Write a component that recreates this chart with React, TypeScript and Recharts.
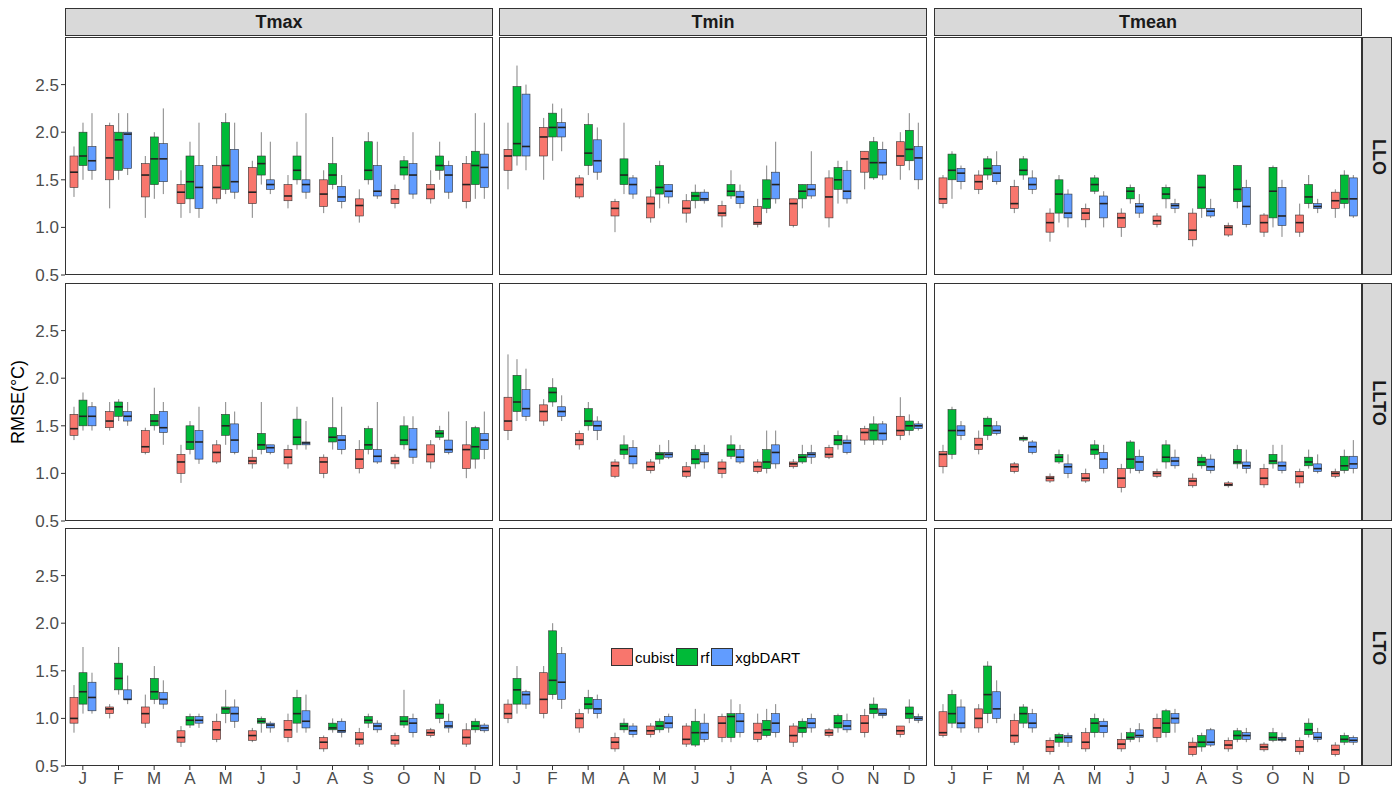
import React from 'react'
import { ComposedChart, Bar, XAxis, YAxis } from 'recharts'

type Box = [number, number, number, number, number]

const months = ['J', 'F', 'M', 'A', 'M', 'J', 'J', 'A', 'S', 'O', 'N', 'D']
const variables = ['Tmax', 'Tmin', 'Tmean']
const schemes = ['LLO', 'LLTO', 'LTO']
const models = ['cubist', 'rf', 'xgbDART']
const colors = ['#F8766D', '#00BA38', '#619CFF']
const yTicks = [0.5, 1.0, 1.5, 2.0, 2.5]

// [min, q1, median, q3, max] per month, one array per panel and model
const tmaxLLO: Box[][] = [
  [[1.32,1.42,1.58,1.75,1.85],[1.2,1.5,1.73,2.07,2.1],[1.1,1.32,1.55,1.67,1.75],[1.1,1.25,1.37,1.45,1.6],[1.25,1.3,1.42,1.65,1.75],[1.1,1.25,1.37,1.63,1.7],[1.2,1.28,1.33,1.45,1.55],[1.15,1.22,1.35,1.5,1.6],[1.05,1.12,1.23,1.3,1.4],[1.2,1.25,1.3,1.4,1.45],[1.25,1.3,1.4,1.45,1.6],[1.2,1.27,1.45,1.67,1.75]],
  [[1.5,1.65,1.75,2.0,2.1],[1.5,1.6,1.92,2.0,2.2],[1.3,1.45,1.72,1.95,2.0],[1.15,1.3,1.48,1.75,1.9],[1.35,1.4,1.65,2.1,2.2],[1.45,1.55,1.67,1.75,2.0],[1.45,1.5,1.6,1.75,1.9],[1.4,1.45,1.55,1.67,1.95],[1.45,1.5,1.6,1.9,2.0],[1.5,1.55,1.63,1.7,1.75],[1.5,1.6,1.65,1.75,1.9],[1.3,1.45,1.65,1.8,2.2]],
  [[1.5,1.6,1.7,1.85,2.2],[1.55,1.62,1.98,2.0,2.2],[1.35,1.48,1.72,1.88,2.25],[1.1,1.2,1.42,1.65,2.1],[1.3,1.37,1.48,1.82,2.1],[1.35,1.4,1.45,1.5,1.9],[1.3,1.37,1.45,1.5,2.2],[1.2,1.27,1.32,1.43,1.55],[1.3,1.33,1.38,1.65,1.9],[1.3,1.35,1.55,1.67,2.0],[1.3,1.37,1.55,1.65,1.7],[1.3,1.42,1.63,1.77,2.1]],
]
const tminLLO: Box[][] = [
  [[1.4,1.6,1.75,1.82,2.1],[1.5,1.75,1.95,2.05,2.15],[1.3,1.32,1.45,1.52,1.55],[0.95,1.12,1.2,1.27,1.3],[1.05,1.1,1.25,1.32,1.4],[1.05,1.15,1.2,1.28,1.35],[1.0,1.12,1.15,1.23,1.28],[1.0,1.03,1.05,1.22,1.3],[1.0,1.02,1.25,1.3,1.3],[1.0,1.1,1.32,1.52,1.6],[1.4,1.58,1.72,1.8,1.8],[1.5,1.65,1.75,1.9,2.0]],
  [[1.65,1.75,1.88,2.48,2.7],[1.7,1.95,2.05,2.2,2.3],[1.55,1.65,1.78,2.08,2.2],[1.35,1.45,1.55,1.72,2.1],[1.2,1.35,1.42,1.65,1.7],[1.2,1.28,1.33,1.37,1.45],[1.3,1.33,1.38,1.45,1.6],[1.15,1.2,1.3,1.5,1.65],[1.2,1.3,1.38,1.45,1.45],[1.25,1.4,1.5,1.63,1.7],[1.5,1.52,1.68,1.9,1.95],[1.6,1.7,1.82,2.02,2.2]],
  [[1.6,1.75,1.85,2.4,2.5],[1.8,1.95,2.05,2.1,2.25],[1.5,1.58,1.7,1.92,2.05],[1.3,1.35,1.45,1.52,1.55],[1.25,1.32,1.38,1.45,1.45],[1.25,1.28,1.3,1.37,1.4],[1.2,1.25,1.32,1.38,1.45],[1.25,1.3,1.45,1.58,1.9],[1.3,1.33,1.4,1.45,1.8],[1.25,1.3,1.38,1.6,1.7],[1.5,1.55,1.68,1.82,1.9],[1.4,1.5,1.73,1.85,2.1]],
]
const tmeanLLO: Box[][] = [
  [[1.2,1.25,1.3,1.52,1.55],[1.35,1.4,1.48,1.55,1.6],[1.15,1.2,1.25,1.43,1.5],[0.85,0.95,1.05,1.15,1.2],[1.0,1.08,1.15,1.2,1.25],[0.9,1.0,1.1,1.15,1.2],[1.0,1.03,1.07,1.12,1.15],[0.8,0.87,0.97,1.15,1.2],[0.9,0.92,1.0,1.02,1.05],[0.9,0.95,1.05,1.13,1.15],[0.9,0.95,1.05,1.13,1.25],[1.1,1.2,1.28,1.37,1.4]],
  [[1.3,1.5,1.6,1.77,1.8],[1.5,1.55,1.62,1.72,1.75],[1.5,1.55,1.6,1.72,1.75],[1.05,1.15,1.35,1.5,1.55],[1.35,1.38,1.45,1.52,1.55],[1.25,1.3,1.38,1.42,1.45],[1.2,1.3,1.35,1.42,1.45],[1.1,1.2,1.42,1.55,1.55],[1.2,1.27,1.4,1.65,1.65],[1.0,1.1,1.38,1.63,1.65],[1.2,1.25,1.32,1.45,1.55],[1.2,1.25,1.3,1.55,1.6]],
  [[1.4,1.48,1.57,1.62,1.65],[1.45,1.48,1.57,1.65,1.8],[1.35,1.4,1.45,1.52,1.6],[1.0,1.1,1.15,1.35,1.4],[1.0,1.1,1.25,1.33,1.38],[1.1,1.15,1.22,1.25,1.35],[1.15,1.2,1.23,1.25,1.3],[1.1,1.12,1.17,1.2,1.3],[1.0,1.03,1.22,1.42,1.5],[0.9,1.02,1.12,1.42,1.5],[1.15,1.2,1.22,1.25,1.3],[1.1,1.12,1.3,1.52,1.55]],
]
const tmaxLLTO: Box[][] = [
  [[1.35,1.4,1.47,1.62,1.7],[1.45,1.48,1.55,1.65,1.75],[1.2,1.22,1.28,1.45,1.48],[0.9,1.0,1.12,1.2,1.3],[1.1,1.12,1.22,1.3,1.35],[1.05,1.1,1.13,1.17,1.25],[1.05,1.1,1.17,1.25,1.3],[0.95,1.0,1.12,1.17,1.2],[1.0,1.05,1.15,1.25,1.35],[1.05,1.1,1.13,1.17,1.2],[1.05,1.12,1.2,1.3,1.35],[0.95,1.05,1.25,1.3,1.55]],
  [[1.45,1.5,1.6,1.77,1.85],[1.55,1.6,1.7,1.75,1.78],[1.45,1.5,1.55,1.62,1.9],[1.2,1.25,1.33,1.5,1.55],[1.3,1.4,1.5,1.62,1.75],[1.2,1.25,1.3,1.42,1.75],[1.25,1.3,1.38,1.57,1.7],[1.25,1.33,1.38,1.48,1.8],[1.2,1.25,1.3,1.47,1.5],[1.25,1.3,1.35,1.5,1.6],[1.35,1.38,1.42,1.45,1.5],[1.05,1.15,1.28,1.48,1.5]],
  [[1.45,1.5,1.6,1.7,1.75],[1.5,1.55,1.6,1.65,1.75],[1.3,1.43,1.48,1.65,1.75],[1.1,1.15,1.33,1.45,1.7],[1.2,1.22,1.35,1.52,1.65],[1.2,1.22,1.27,1.3,1.3],[1.25,1.3,1.32,1.33,1.55],[1.2,1.25,1.35,1.4,1.7],[1.1,1.12,1.18,1.25,1.75],[1.1,1.17,1.25,1.47,1.6],[1.2,1.22,1.25,1.35,1.65],[1.15,1.25,1.35,1.42,1.65]],
]
const tminLLTO: Box[][] = [
  [[1.35,1.45,1.55,1.8,2.25],[1.5,1.55,1.65,1.72,1.78],[1.25,1.3,1.35,1.42,1.45],[0.95,0.97,1.08,1.12,1.15],[1.0,1.03,1.07,1.12,1.15],[0.95,0.97,1.02,1.07,1.12],[0.95,1.0,1.05,1.12,1.15],[1.0,1.02,1.07,1.12,1.15],[1.05,1.07,1.1,1.12,1.15],[1.15,1.17,1.2,1.27,1.3],[1.3,1.35,1.43,1.47,1.5],[1.35,1.4,1.45,1.6,1.8]],
  [[1.55,1.65,1.75,2.03,2.2],[1.7,1.75,1.85,1.9,2.0],[1.45,1.5,1.55,1.68,1.75],[1.15,1.2,1.25,1.3,1.4],[1.1,1.15,1.2,1.22,1.3],[1.05,1.1,1.15,1.25,1.3],[1.15,1.18,1.25,1.3,1.4],[1.0,1.05,1.12,1.25,1.45],[1.1,1.12,1.17,1.2,1.3],[1.25,1.3,1.35,1.4,1.45],[1.3,1.35,1.45,1.52,1.6],[1.4,1.45,1.5,1.55,1.62]],
  [[1.55,1.6,1.68,1.88,2.1],[1.55,1.6,1.65,1.7,1.82],[1.35,1.45,1.5,1.55,1.6],[1.05,1.1,1.18,1.27,1.35],[1.15,1.17,1.2,1.22,1.35],[1.05,1.12,1.2,1.22,1.3],[1.1,1.12,1.17,1.25,1.3],[1.05,1.1,1.22,1.3,1.45],[1.1,1.17,1.2,1.22,1.3],[1.2,1.22,1.32,1.35,1.4],[1.3,1.35,1.42,1.52,1.55],[1.45,1.47,1.5,1.52,1.55]],
]
const tmeanLLTO: Box[][] = [
  [[1.0,1.07,1.2,1.23,1.3],[1.2,1.25,1.3,1.37,1.45],[1.0,1.02,1.07,1.1,1.12],[0.9,0.92,0.95,0.97,1.0],[0.9,0.92,0.95,1.0,1.05],[0.8,0.85,0.95,1.05,1.1],[0.95,0.97,1.0,1.02,1.05],[0.85,0.87,0.92,0.95,1.0],[0.85,0.87,0.88,0.9,0.92],[0.85,0.88,0.95,1.05,1.1],[0.85,0.9,0.97,1.02,1.05],[0.95,0.97,1.0,1.02,1.05]],
  [[1.15,1.2,1.45,1.67,1.7],[1.35,1.4,1.5,1.58,1.6],[1.33,1.35,1.37,1.38,1.4],[1.1,1.12,1.17,1.2,1.25],[1.15,1.2,1.25,1.3,1.35],[1.0,1.05,1.15,1.33,1.35],[1.05,1.12,1.17,1.3,1.35],[1.05,1.08,1.12,1.17,1.2],[1.05,1.1,1.12,1.25,1.3],[1.05,1.1,1.13,1.2,1.3],[1.05,1.08,1.12,1.17,1.25],[1.0,1.03,1.08,1.18,1.25]],
  [[1.35,1.4,1.45,1.5,1.55],[1.4,1.42,1.45,1.5,1.55],[1.2,1.22,1.28,1.33,1.35],[0.95,1.0,1.07,1.1,1.2],[1.0,1.05,1.15,1.22,1.3],[1.0,1.03,1.12,1.18,1.25],[1.05,1.08,1.13,1.17,1.25],[1.0,1.03,1.07,1.15,1.2],[1.0,1.05,1.08,1.12,1.25],[1.0,1.03,1.08,1.12,1.3],[1.0,1.02,1.05,1.1,1.2],[1.0,1.05,1.1,1.18,1.35]],
]
const tmaxLTO: Box[][] = [
  [[0.85,0.95,1.0,1.22,1.35],[1.0,1.05,1.1,1.12,1.15],[0.9,0.95,1.05,1.12,1.25],[0.7,0.75,0.8,0.87,0.92],[0.75,0.78,0.88,0.97,1.05],[0.75,0.77,0.82,0.87,0.9],[0.75,0.8,0.88,0.98,1.05],[0.65,0.68,0.75,0.8,0.82],[0.7,0.73,0.78,0.85,0.9],[0.7,0.73,0.77,0.82,0.85],[0.8,0.82,0.85,0.88,0.9],[0.7,0.73,0.8,0.88,0.95]],
  [[1.05,1.15,1.28,1.48,1.75],[1.25,1.3,1.42,1.58,1.75],[1.15,1.2,1.28,1.42,1.55],[0.9,0.93,0.98,1.02,1.05],[0.95,1.05,1.1,1.12,1.3],[0.85,0.95,0.97,1.0,1.02],[0.85,0.95,1.05,1.22,1.3],[0.85,0.88,0.9,0.95,1.0],[0.9,0.95,0.98,1.02,1.05],[0.9,0.93,0.97,1.02,1.3],[0.95,1.0,1.05,1.15,1.2],[0.85,0.88,0.92,0.97,1.0]],
  [[1.05,1.08,1.22,1.38,1.48],[1.15,1.2,1.2,1.3,1.45],[1.1,1.15,1.2,1.27,1.4],[0.9,0.95,0.98,1.02,1.05],[0.9,0.97,1.05,1.12,1.2],[0.85,0.9,0.93,0.95,0.97],[0.85,0.9,0.97,1.08,1.25],[0.8,0.85,0.87,0.97,1.0],[0.85,0.88,0.92,0.95,0.98],[0.8,0.85,0.95,1.0,1.05],[0.85,0.9,0.92,0.97,1.05],[0.85,0.87,0.9,0.93,0.95]],
]
const tminLTO: Box[][] = [
  [[0.95,1.0,1.05,1.15,1.2],[1.0,1.05,1.2,1.48,1.55],[0.85,0.9,1.0,1.05,1.1],[0.65,0.68,0.75,0.8,0.85],[0.8,0.83,0.87,0.92,0.95],[0.7,0.73,0.78,0.92,0.95],[0.75,0.8,0.95,1.02,1.05],[0.75,0.78,0.85,0.95,1.05],[0.7,0.75,0.82,0.92,0.95],[0.8,0.82,0.85,0.88,0.9],[0.8,0.85,0.95,1.03,1.1],[0.8,0.83,0.87,0.92,0.92]],
  [[1.05,1.15,1.3,1.42,1.55],[1.2,1.25,1.4,1.92,2.0],[1.05,1.1,1.15,1.22,1.3],[0.85,0.88,0.92,0.95,1.0],[0.85,0.88,0.92,0.97,1.0],[0.7,0.72,0.85,0.97,1.1],[0.75,0.8,1.02,1.05,1.2],[0.8,0.82,0.88,0.98,1.1],[0.8,0.85,0.9,0.97,1.0],[0.85,0.9,0.95,1.03,1.05],[1.0,1.05,1.1,1.15,1.22],[0.95,1.0,1.05,1.12,1.2]],
  [[1.1,1.15,1.25,1.28,1.3],[1.1,1.2,1.38,1.68,1.75],[1.0,1.05,1.1,1.2,1.25],[0.8,0.83,0.87,0.92,0.95],[0.85,0.9,0.95,1.02,1.05],[0.75,0.78,0.85,0.95,1.05],[0.8,0.85,0.97,1.05,1.15],[0.8,0.85,0.95,1.05,1.15],[0.85,0.9,0.95,1.0,1.05],[0.85,0.88,0.92,0.98,1.05],[1.0,1.03,1.05,1.1,1.1],[0.95,0.98,1.0,1.02,1.05]],
]
const tmeanLTO: Box[][] = [
  [[0.8,0.82,0.85,1.07,1.15],[0.85,0.9,1.0,1.1,1.15],[0.72,0.75,0.82,0.98,1.05],[0.62,0.65,0.7,0.77,0.8],[0.65,0.68,0.75,0.85,0.9],[0.65,0.68,0.73,0.78,0.85],[0.75,0.8,0.9,1.0,1.05],[0.6,0.62,0.7,0.75,0.8],[0.65,0.68,0.72,0.77,0.8],[0.65,0.67,0.7,0.73,0.75],[0.62,0.65,0.7,0.77,0.8],[0.6,0.62,0.67,0.72,0.75]],
  [[0.9,0.95,1.05,1.25,1.3],[0.95,1.05,1.25,1.55,1.6],[0.9,0.95,1.05,1.12,1.15],[0.7,0.75,0.8,0.83,0.85],[0.8,0.85,0.95,1.0,1.05],[0.75,0.78,0.8,0.85,0.9],[0.8,0.85,0.95,1.08,1.1],[0.65,0.7,0.75,0.82,0.85],[0.75,0.78,0.82,0.87,0.9],[0.75,0.77,0.8,0.85,0.9],[0.8,0.83,0.88,0.95,1.0],[0.72,0.75,0.78,0.82,0.85]],
  [[0.85,0.9,0.95,1.12,1.2],[0.95,1.0,1.1,1.28,1.4],[0.85,0.9,0.95,1.05,1.1],[0.7,0.75,0.8,0.82,0.85],[0.8,0.85,0.92,0.97,1.0],[0.75,0.8,0.82,0.88,0.95],[0.85,0.95,1.0,1.05,1.1],[0.7,0.72,0.75,0.88,0.9],[0.75,0.78,0.82,0.85,0.9],[0.75,0.77,0.78,0.8,0.85],[0.75,0.78,0.8,0.85,0.9],[0.72,0.75,0.77,0.8,0.82]],
]

const panels: Box[][][][] = [
  [tmaxLLO, tminLLO, tmeanLLO],
  [tmaxLLTO, tminLLTO, tmeanLLTO],
  [tmaxLTO, tminLTO, tmeanLTO],
]

const FONT = '"Liberation Sans", Arial, sans-serif'
const colLeft = [65, 499, 934]
const rowTop = [37, 283, 528]
const PW = 428
const PH = 238
const YW = 57
const XH = 30
const tickStyle = { fill: '#4d4d4d', fontSize: 17, fontFamily: FONT }

// box drawn inside the [min, max] range bar; inner points interpolated on the same scale
const BoxShape = (props: any) => {
  const { x, y, width, height, payload, fill, model } = props
  const b: Box = payload[model]
  const top = Math.min(y, y + height)
  const h = Math.abs(height)
  const py = (v: number) => top + (h * (b[4] - v)) / (b[4] - b[0] || 1)
  const cx = x + width / 2
  return (
    <g>
      <line x1={cx} x2={cx} y1={py(b[4])} y2={py(b[0])} stroke="#333" strokeWidth={0.6} />
      <rect x={x} y={py(b[3])} width={width} height={py(b[1]) - py(b[3])} fill={fill} stroke="#333" strokeWidth={0.6} />
      <line x1={x} x2={x + width} y1={py(b[2])} y2={py(b[2])} stroke="#222" strokeWidth={1.6} />
    </g>
  )
}

function Panel({ r, c }: { r: number; c: number }) {
  const data = months.map((m, i) => {
    const row: any = { m: m + i }
    models.forEach((mo, k) => {
      row[mo] = panels[r][c][k][i]
    })
    return row
  })
  const showY = c === 0
  const showX = r === 2
  const padB = showX ? XH : showY ? 12 : 0
  const w = PW + (showY ? YW : 0)
  const h = PH + padB
  return (
    <div style={{ position: 'absolute', left: colLeft[c] - (showY ? YW : 0), top: rowTop[r] }}>
      <ComposedChart
        width={w}
        height={h}
        data={data}
        margin={{ top: 0, right: 0, bottom: showX ? 0 : padB, left: 0 }}
        barCategoryGap="14%"
        barGap={1}
      >
        <XAxis
          dataKey="m"
          hide={!showX}
          height={XH}
          axisLine={false}
          tickLine={{ stroke: '#333' }}
          tickSize={4}
          tickFormatter={(v: string) => v.charAt(0)}
          tick={tickStyle}
          interval={0}
        />
        <YAxis
          type="number"
          domain={[0.5, 3.0]}
          ticks={yTicks}
          hide={!showY}
          width={YW}
          axisLine={false}
          tickLine={{ stroke: '#333' }}
          tickSize={4}
          tickFormatter={(v: number) => v.toFixed(1)}
          tick={tickStyle}
          interval={0}
          allowDataOverflow
        />
        {models.map((mo, k) => (
          <Bar
            key={mo}
            dataKey={(d: any) => [d[mo][0], d[mo][4]]}
            fill={colors[k]}
            isAnimationActive={false}
            shape={(p: any) => <BoxShape {...p} model={mo} fill={colors[k]} />}
          />
        ))}
      </ComposedChart>
      <div
        style={{
          position: 'absolute', left: showY ? YW : 0, top: 0, width: PW, height: PH,
          border: '1px solid #333', boxSizing: 'border-box', pointerEvents: 'none',
        }}
      />
    </div>
  )
}

export default function App() {
  return (
    <div style={{ position: 'relative', width: 1400, height: 800, background: '#fff', fontFamily: FONT, margin: -8 }}>
      {variables.map((v, c) => (
        <div
          key={v}
          style={{
            position: 'absolute', left: colLeft[c], top: 8, width: PW, height: 28,
            background: '#d9d9d9', border: '1px solid #333', boxSizing: 'border-box',
            textAlign: 'center', fontWeight: 'bold', fontSize: 18, lineHeight: '26px', color: '#1a1a1a',
          }}
        >
          {v}
        </div>
      ))}
      {schemes.map((s, r) => (
        <div
          key={s}
          style={{
            position: 'absolute', left: 1362, top: rowTop[r], width: 30, height: PH,
            background: '#d9d9d9', border: '1px solid #333', boxSizing: 'border-box',
          }}
        >
          <div
            style={{
              position: 'absolute', left: 15, top: PH / 2, transform: 'translate(-50%,-50%) rotate(90deg)',
              fontWeight: 'bold', fontSize: 18, color: '#1a1a1a', whiteSpace: 'nowrap',
            }}
          >
            {s}
          </div>
        </div>
      ))}
      {[0, 1, 2].map((r) => [0, 1, 2].map((c) => <Panel key={r + '-' + c} r={r} c={c} />))}
      <div
        style={{
          position: 'absolute', left: 18, top: 402, transform: 'translate(-50%,-50%) rotate(-90deg)',
          fontSize: 18, color: '#000', whiteSpace: 'nowrap',
        }}
      >
        RMSE(°C)
      </div>
      <div style={{ position: 'absolute', left: 611, top: 648, display: 'flex', alignItems: 'center', fontSize: 15, color: '#000' }}>
        {models.map((mo, k) => (
          <div key={mo} style={{ display: 'flex', alignItems: 'center', marginRight: 2 }}>
            <div style={{ width: 22, height: 18, background: colors[k], border: '1px solid #333', boxSizing: 'border-box', marginRight: 2 }} />
            <span>{mo}</span>
          </div>
        ))}
      </div>
    </div>
  )
}
